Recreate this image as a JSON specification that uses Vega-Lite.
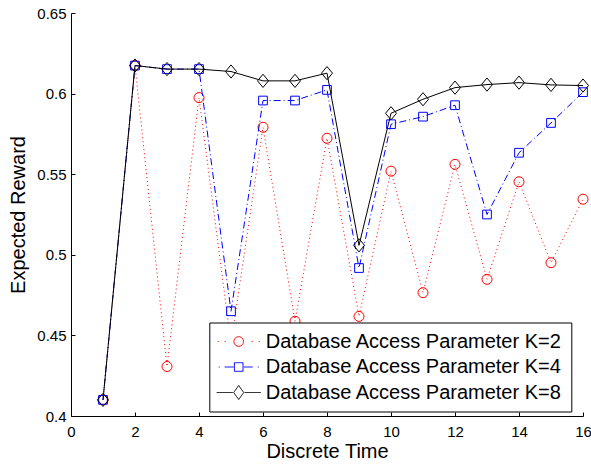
{
  "$schema": "https://vega.github.io/schema/vega-lite/v6.json",
  "width": 512,
  "height": 403,
  "autosize": "none",
  "padding": {"left": 71, "top": 13, "right": 8, "bottom": 49},
  "background": "white",
  "config": {"view": {"stroke": null}, "font": "Liberation Sans"},
  "data": {
    "values": [
      {"t": 1, "series": "Database Access Parameter K=2", "v": 0.41},
      {"t": 2, "series": "Database Access Parameter K=2", "v": 0.6174},
      {"t": 3, "series": "Database Access Parameter K=2", "v": 0.4307},
      {"t": 4, "series": "Database Access Parameter K=2", "v": 0.5975},
      {"t": 5, "series": "Database Access Parameter K=2", "v": 0.445},
      {"t": 6, "series": "Database Access Parameter K=2", "v": 0.5791},
      {"t": 7, "series": "Database Access Parameter K=2", "v": 0.4588},
      {"t": 8, "series": "Database Access Parameter K=2", "v": 0.5723},
      {"t": 9, "series": "Database Access Parameter K=2", "v": 0.4618},
      {"t": 10, "series": "Database Access Parameter K=2", "v": 0.5519},
      {"t": 11, "series": "Database Access Parameter K=2", "v": 0.4765},
      {"t": 12, "series": "Database Access Parameter K=2", "v": 0.5561},
      {"t": 13, "series": "Database Access Parameter K=2", "v": 0.4848},
      {"t": 14, "series": "Database Access Parameter K=2", "v": 0.5453},
      {"t": 15, "series": "Database Access Parameter K=2", "v": 0.4951},
      {"t": 16, "series": "Database Access Parameter K=2", "v": 0.5345},
      {"t": 1, "series": "Database Access Parameter K=4", "v": 0.41},
      {"t": 2, "series": "Database Access Parameter K=4", "v": 0.6174},
      {"t": 3, "series": "Database Access Parameter K=4", "v": 0.6152},
      {"t": 4, "series": "Database Access Parameter K=4", "v": 0.6152},
      {"t": 5, "series": "Database Access Parameter K=4", "v": 0.465},
      {"t": 6, "series": "Database Access Parameter K=4", "v": 0.5957},
      {"t": 7, "series": "Database Access Parameter K=4", "v": 0.5957},
      {"t": 8, "series": "Database Access Parameter K=4", "v": 0.6023},
      {"t": 9, "series": "Database Access Parameter K=4", "v": 0.4918},
      {"t": 10, "series": "Database Access Parameter K=4", "v": 0.581},
      {"t": 11, "series": "Database Access Parameter K=4", "v": 0.5857},
      {"t": 12, "series": "Database Access Parameter K=4", "v": 0.5928},
      {"t": 13, "series": "Database Access Parameter K=4", "v": 0.525},
      {"t": 14, "series": "Database Access Parameter K=4", "v": 0.5633},
      {"t": 15, "series": "Database Access Parameter K=4", "v": 0.5818},
      {"t": 16, "series": "Database Access Parameter K=4", "v": 0.6009},
      {"t": 1, "series": "Database Access Parameter K=8", "v": 0.41},
      {"t": 2, "series": "Database Access Parameter K=8", "v": 0.6174},
      {"t": 3, "series": "Database Access Parameter K=8", "v": 0.6152},
      {"t": 4, "series": "Database Access Parameter K=8", "v": 0.6152},
      {"t": 5, "series": "Database Access Parameter K=8", "v": 0.6137},
      {"t": 6, "series": "Database Access Parameter K=8", "v": 0.6079},
      {"t": 7, "series": "Database Access Parameter K=8", "v": 0.6079},
      {"t": 8, "series": "Database Access Parameter K=8", "v": 0.6127},
      {"t": 9, "series": "Database Access Parameter K=8", "v": 0.5059},
      {"t": 10, "series": "Database Access Parameter K=8", "v": 0.5878},
      {"t": 11, "series": "Database Access Parameter K=8", "v": 0.5965},
      {"t": 12, "series": "Database Access Parameter K=8", "v": 0.6037},
      {"t": 13, "series": "Database Access Parameter K=8", "v": 0.6056},
      {"t": 14, "series": "Database Access Parameter K=8", "v": 0.6068},
      {"t": 15, "series": "Database Access Parameter K=8", "v": 0.6054},
      {"t": 16, "series": "Database Access Parameter K=8", "v": 0.605}
    ]
  },
  "encoding": {
    "x": {
      "field": "t", "type": "quantitative",
      "scale": {"domain": [0, 16], "nice": false, "zero": false},
      "axis": {
        "values": [0, 2, 4, 6, 8, 10, 12, 14, 16], "format": "d", "grid": false,
        "domainColor": "black", "tickColor": "black", "tickSize": -4,
        "labelPadding": 12, "labelFontSize": 15, "labelColor": "black", "labelFont": "Liberation Sans",
        "labelFlush": false, "labelOverlap": false,
        "title": "Discrete Time", "titleFontSize": 20, "titleFontWeight": "normal",
        "titleColor": "black", "titleFont": "Liberation Sans", "titlePadding": 2
      }
    },
    "y": {
      "field": "v", "type": "quantitative",
      "scale": {"domain": [0.4, 0.65], "nice": false, "zero": false},
      "axis": {
        "values": [0.4, 0.45, 0.5, 0.55, 0.6, 0.65], "format": "~g", "grid": false,
        "domainColor": "black", "tickColor": "black", "tickSize": -4,
        "labelPadding": 9, "labelFontSize": 15, "labelColor": "black", "labelFont": "Liberation Sans",
        "labelFlush": false, "labelOverlap": false,
        "title": "Expected Reward", "titleFontSize": 20, "titleFontWeight": "normal",
        "titleColor": "black", "titleFont": "Liberation Sans", "titlePadding": 8
      }
    }
  },
  "layer": [
    {
      "transform": [{"filter": "datum.series == 'Database Access Parameter K=2'"}],
      "mark": {"type": "line", "strokeWidth": 1, "strokeDash": [1, 3]},
      "encoding": {
        "color": {
          "field": "series", "type": "nominal",
          "scale": {
            "domain": ["Database Access Parameter K=2", "Database Access Parameter K=4", "Database Access Parameter K=8"],
            "range": ["#ff0000", "#0000ff", "#000000"]
          },
          "legend": {
            "title": null, "orient": "none", "legendX": 138.3, "legendY": 309.5,
            "direction": "vertical", "padding": 9,
            "strokeColor": "black", "fillColor": "white",
            "labelFont": "Liberation Sans", "labelFontSize": 20, "labelColor": "black", "labelLimit": 500,
            "symbolSize": 4, "symbolOffset": 10.4, "labelOffset": 17, "rowPadding": 5.5,
            "symbolStrokeWidth": 1, "symbolFillColor": "transparent",
            "encode": {
              "symbols": {
                "update": {
                  "shape": {"signal": "indexof(datum.value, 'K=2') >= 0 ? 'M-21,0h1M-14,0h1M13,0h1M20,0h1M4.8,0A4.8,4.8,0,1,1,-4.8,0A4.8,4.8,0,1,1,4.8,0Z' : (indexof(datum.value, 'K=4') >= 0 ? 'M-20,0h1M-14,0h9M5,0h9M19,0h1M-4.3,-4.3h8.6v8.6h-8.6Z' : 'M-22,0h16M6,0h16M0,-7L5,0L0,7L-5,0Z')"},
                  "fill": {"value": "transparent"},
                  "strokeWidth": {"value": 1},
                  "strokeDash": {"value": [1, 0]},
                  "opacity": {"value": 1}
                }
              }
            }
          }
        }
      }
    },
    {
      "transform": [{"filter": "datum.series == 'Database Access Parameter K=2'"}],
      "mark": {"type": "point", "shape": "circle", "size": 100, "filled": false, "stroke": "#ff0000", "strokeWidth": 1, "opacity": 1}
    },
    {
      "transform": [{"filter": "datum.series == 'Database Access Parameter K=4'"}],
      "mark": {"type": "line", "strokeWidth": 1, "strokeDash": [7, 3, 1, 3]},
      "encoding": {"color": {"field": "series", "type": "nominal"}}
    },
    {
      "transform": [{"filter": "datum.series == 'Database Access Parameter K=4'"}],
      "mark": {"type": "point", "shape": "square", "size": 76, "filled": false, "stroke": "#0000ff", "strokeWidth": 1, "opacity": 1}
    },
    {
      "transform": [{"filter": "datum.series == 'Database Access Parameter K=8'"}],
      "mark": {"type": "line", "strokeWidth": 1},
      "encoding": {"color": {"field": "series", "type": "nominal"}}
    },
    {
      "transform": [{"filter": "datum.series == 'Database Access Parameter K=8'"}],
      "mark": {"type": "point", "shape": "M0,-1.2L1,0L0,1.2L-1,0Z", "size": 121, "filled": false, "stroke": "#000000", "strokeWidth": 1, "opacity": 1}
    }
  ]
}
